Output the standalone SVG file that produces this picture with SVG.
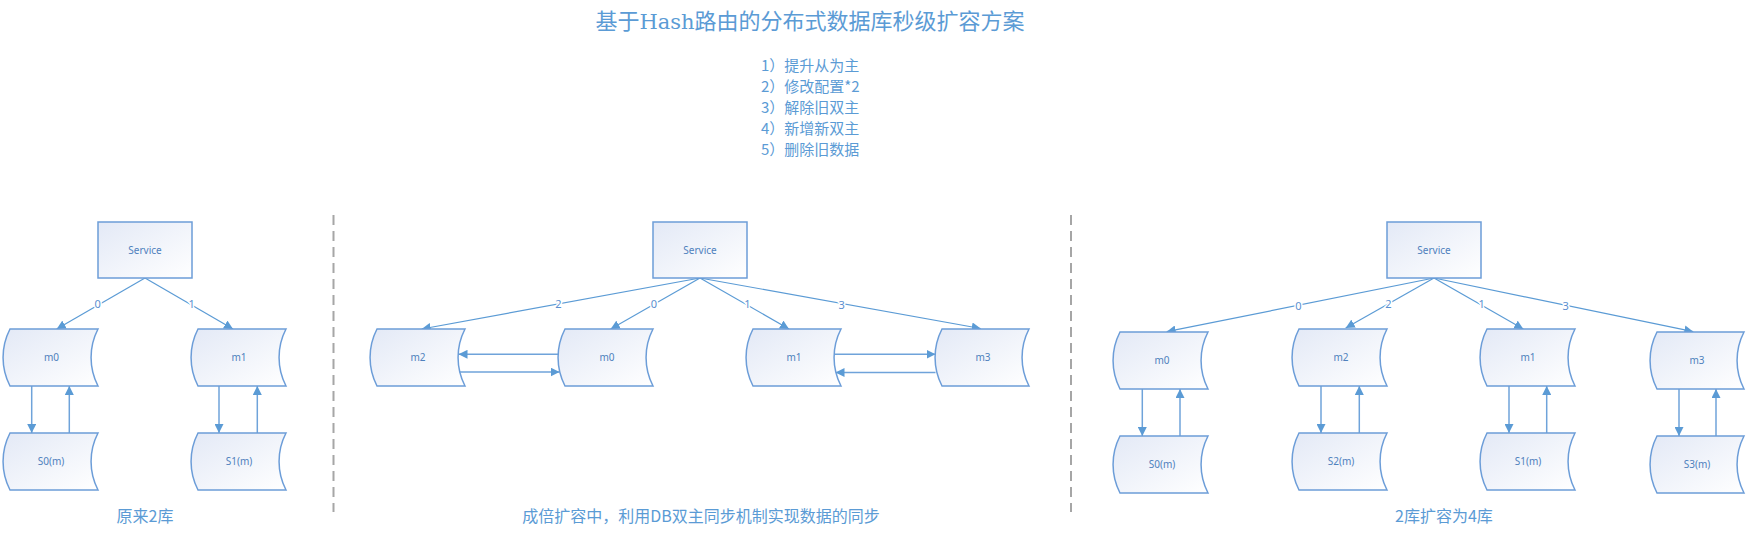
<svg xmlns="http://www.w3.org/2000/svg" width="1749" height="535" viewBox="0 0 1749 535">
<defs>
<linearGradient id="g" x1="0" y1="0" x2="1" y2="1">
<stop offset="0" stop-color="#E3E9F6"/>
<stop offset="1" stop-color="#FFFFFF"/>
</linearGradient>
<marker id="ah" markerUnits="userSpaceOnUse" markerWidth="9" markerHeight="9" refX="9" refY="4.5" orient="auto">
<path d="M0,0 L9,4.5 L0,9 Z" fill="#5B9BD5"/>
</marker>
<style>
.n{fill:url(#g);stroke:#6C9DD8;stroke-width:1.5}
.t{font-family:"Noto Sans","Liberation Sans",sans-serif;font-size:10px;fill:#4F81BD;text-anchor:middle}
.c{fill:none;stroke:#5B9BD5;stroke-width:1.2;marker-end:url(#ah)}
.v{fill:none;stroke:#6FA3DA;stroke-width:1.5;marker-end:url(#ah)}
.l{font-family:"Noto Sans","Liberation Sans",sans-serif;font-size:11px;fill:#5B8FD0;text-anchor:middle;stroke:#FFFFFF;stroke-width:3;paint-order:stroke}
.cap{font-family:"Noto Sans CJK SC",sans-serif;font-size:16px;fill:#5B9BD5;text-anchor:middle}
.li{font-family:"Noto Sans CJK SC",sans-serif;font-size:15px;fill:#5B9BD5}
.d{stroke:#A6A6A6;stroke-width:2;stroke-dasharray:10 6}
</style>
</defs>
<rect width="1749" height="535" fill="#FFFFFF"/>

<g id="title">
<text x="810" y="29" font-family="Noto Sans CJK SC, sans-serif" font-size="22" fill="#5B9BD5" text-anchor="middle">基于<tspan font-family="DejaVu Serif, serif" font-size="21">Hash</tspan>路由的分布式数据库秒级扩容方案</text>
</g>
<g id="steps">
<text class="li" x="761" y="71">1）提升从为主</text>
<text class="li" x="761" y="92">2）修改配置*2</text>
<text class="li" x="761" y="113">3）解除旧双主</text>
<text class="li" x="761" y="134">4）新增新双主</text>
<text class="li" x="761" y="155">5）删除旧数据</text>
</g>

<g id="dividers">
<line class="d" x1="333.5" y1="215" x2="333.5" y2="512"/>
<line class="d" x1="1071" y1="215" x2="1071" y2="512"/>
</g>

<g id="connectors">
<path class="c" d="M145,278 L56.7,329"/>
<path class="c" d="M145,278 L233,329"/>
<path class="v" d="M31.7,386 L31.7,433"/>
<path class="v" d="M69.3,433 L69.3,386"/>
<path class="v" d="M219,386 L219,433"/>
<path class="v" d="M257.3,433 L257.3,386"/>

<path class="c" d="M700,278 L421.7,329"/>
<path class="c" d="M700,278 L610.7,329"/>
<path class="c" d="M700,278 L789,329"/>
<path class="c" d="M700,278 L980.7,328.5"/>
<path class="v" d="M559,354.3 L458.5,354.3"/>
<path class="v" d="M457.5,372 L559.5,372"/>
<path class="v" d="M835,354.3 L935.5,354.3"/>
<path class="v" d="M935.5,372.5 L835.5,372.5"/>

<path class="c" d="M1434,278 L1166.7,331.7"/>
<path class="c" d="M1434,278 L1345.7,328"/>
<path class="c" d="M1434,278 L1523.3,329"/>
<path class="c" d="M1434,278 L1693.3,331.7"/>
<path class="v" d="M1142.3,389 L1142.3,436"/>
<path class="v" d="M1180,436 L1180,389"/>
<path class="v" d="M1321,386 L1321,433"/>
<path class="v" d="M1359.3,433 L1359.3,386"/>
<path class="v" d="M1509,386 L1509,433"/>
<path class="v" d="M1546.7,433 L1546.7,386"/>
<path class="v" d="M1679,389 L1679,436"/>
<path class="v" d="M1716,436 L1716,389"/>

<text class="l" x="97.7" y="308">0</text>
<text class="l" x="191.7" y="308">1</text>
<text class="l" x="558.3" y="307.5">2</text>
<text class="l" x="654" y="307.5">0</text>
<text class="l" x="747.3" y="308">1</text>
<text class="l" x="841.7" y="308.5">3</text>
<text class="l" x="1298.3" y="310">0</text>
<text class="l" x="1388.3" y="308">2</text>
<text class="l" x="1481.7" y="308">1</text>
<text class="l" x="1565.7" y="310">3</text>
</g>

<g id="p1-service"><rect class="n" x="98" y="222" width="94" height="56"/><text class="t" x="145" y="253.5">Service</text></g>
<g id="p1-m0"><path class="n" d="M10,329 H98 A62 62 0 0 0 98,386 H10 A62 62 0 0 1 10,329 Z"/><text class="t" x="51.5" y="361">m0</text></g>
<g id="p1-m1"><path class="n" d="M198,329 H286 A62 62 0 0 0 286,386 H198 A62 62 0 0 1 198,329 Z"/><text class="t" x="239" y="361">m1</text></g>
<g id="p1-s0"><path class="n" d="M10,433 H98 A62 62 0 0 0 98,490 H10 A62 62 0 0 1 10,433 Z"/><text class="t" x="51" y="465">S0(m)</text></g>
<g id="p1-s1"><path class="n" d="M198,433 H286 A62 62 0 0 0 286,490 H198 A62 62 0 0 1 198,433 Z"/><text class="t" x="239" y="465">S1(m)</text></g>

<g id="p2-service"><rect class="n" x="653" y="222" width="94" height="56"/><text class="t" x="700" y="253.5">Service</text></g>
<g id="p2-m2"><path class="n" d="M377,329 H465 A62 62 0 0 0 465,386 H377 A62 62 0 0 1 377,329 Z"/><text class="t" x="418" y="361">m2</text></g>
<g id="p2-m0"><path class="n" d="M565,329 H653 A62 62 0 0 0 653,386 H565 A62 62 0 0 1 565,329 Z"/><text class="t" x="607" y="361">m0</text></g>
<g id="p2-m1"><path class="n" d="M753,329 H841 A62 62 0 0 0 841,386 H753 A62 62 0 0 1 753,329 Z"/><text class="t" x="794" y="361">m1</text></g>
<g id="p2-m3"><path class="n" d="M942,329 H1029 A62 62 0 0 0 1029,386 H942 A62 62 0 0 1 942,329 Z"/><text class="t" x="983" y="361">m3</text></g>

<g id="p3-service"><rect class="n" x="1387" y="222" width="94" height="56"/><text class="t" x="1434" y="253.5">Service</text></g>
<g id="p3-m0"><path class="n" d="M1120,332 H1208 A62 62 0 0 0 1208,389 H1120 A62 62 0 0 1 1120,332 Z"/><text class="t" x="1162" y="364">m0</text></g>
<g id="p3-s0"><path class="n" d="M1120,436 H1208 A62 62 0 0 0 1208,493 H1120 A62 62 0 0 1 1120,436 Z"/><text class="t" x="1162" y="468">S0(m)</text></g>
<g id="p3-m2"><path class="n" d="M1299,329 H1387 A62 62 0 0 0 1387,386 H1299 A62 62 0 0 1 1299,329 Z"/><text class="t" x="1341" y="361">m2</text></g>
<g id="p3-s2"><path class="n" d="M1299,433 H1387 A62 62 0 0 0 1387,490 H1299 A62 62 0 0 1 1299,433 Z"/><text class="t" x="1341" y="465">S2(m)</text></g>
<g id="p3-m1"><path class="n" d="M1487,329 H1575 A62 62 0 0 0 1575,386 H1487 A62 62 0 0 1 1487,329 Z"/><text class="t" x="1528" y="361">m1</text></g>
<g id="p3-s1"><path class="n" d="M1487,433 H1575 A62 62 0 0 0 1575,490 H1487 A62 62 0 0 1 1487,433 Z"/><text class="t" x="1528" y="465">S1(m)</text></g>
<g id="p3-m3"><path class="n" d="M1657,332 H1744 A62 62 0 0 0 1744,389 H1657 A62 62 0 0 1 1657,332 Z"/><text class="t" x="1697" y="364">m3</text></g>
<g id="p3-s3"><path class="n" d="M1657,436 H1744 A62 62 0 0 0 1744,493 H1657 A62 62 0 0 1 1657,436 Z"/><text class="t" x="1697" y="468">S3(m)</text></g>

<g id="captions">
<text class="cap" x="145" y="522">原来2库</text>
<text class="cap" x="701" y="522">成倍扩容中，利用DB双主同步机制实现数据的同步</text>
<text class="cap" x="1444" y="522">2库扩容为4库</text>
</g>
</svg>
